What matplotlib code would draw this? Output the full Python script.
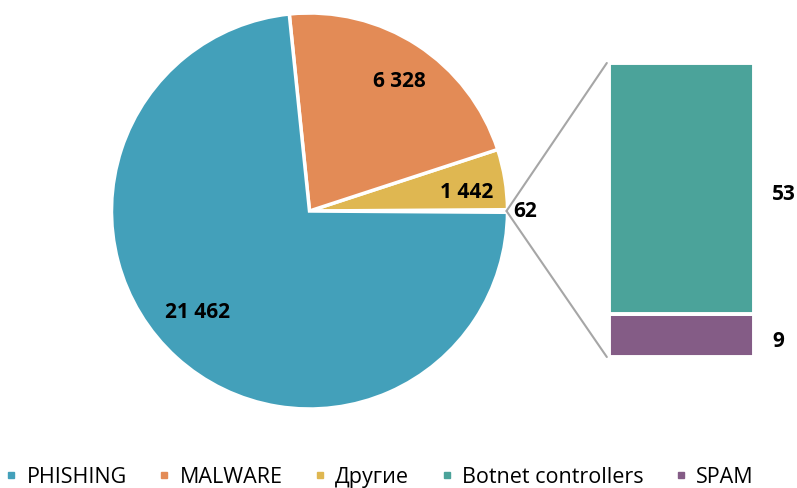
import numpy as np
import matplotlib
matplotlib.use("Agg")
import matplotlib.pyplot as plt
from matplotlib.patches import ConnectionPatch
from matplotlib.lines import Line2D

plt.rcParams['font.family'] = ['Open Sans', 'DejaVu Sans']

# Data
pie_labels = ["Остальные", "Другие", "MALWARE", "PHISHING"]
pie_values = [62, 1442, 6328, 21462]
pie_colors = ["#FFFFFF", "#DFB751", "#E38B56", "#43A0BA"]
pie_texts = ["62", "1 442", "6 328", "21 462"]

bar_labels = ["SPAM", "Botnet controllers"]
bar_values = [9, 53]
bar_colors = ["#845C86", "#4BA39A"]

legend_labels = ["PHISHING", "MALWARE", "Другие", "Botnet controllers", "SPAM"]
legend_colors = ["#43A0BA", "#E38B56", "#DFB751", "#4BA39A", "#845C86"]

W, H = 797, 489
fig = plt.figure(figsize=(W / 100, H / 100), dpi=100)
ax = fig.add_axes([0, 0, 1, 1])

cx, cy, R = 309.5, H - 212, 198
total = sum(pie_values)
start = -pie_values[0] / total * 360 / 2
wedges, _ = ax.pie(pie_values, colors=pie_colors, startangle=start, counterclock=True,
                   center=(cx, cy), radius=R, frame=True,
                   wedgeprops=dict(edgecolor='white', linewidth=2.5))
ax.set_xlim(0, W)
ax.set_ylim(0, H)
ax.set_aspect('equal')
ax.axis('off')

# labels
rfrac = [1.09, 0.80, 0.80, 0.76]
dang = [0, -2, -1.5, -6]
for w, t, rf, da in zip(wedges, pie_texts, rfrac, dang):
    a = np.deg2rad((w.theta1 + w.theta2) / 2 + da)
    x = cx + rf * R * np.cos(a)
    y = cy + rf * R * np.sin(a)
    ax.text(x, y, t, ha='center', va='center', fontsize=15, fontweight='bold', color='black')

# bar of pie
pad = 2
bx0, bx1 = 609 - pad, 754 + pad
by0, by1 = H - 358 - pad, H - 64 + pad
bax = fig.add_axes([bx0 / W, by0 / H, (bx1 - bx0) / W, (by1 - by0) / H])
bottom = 0
tot_b = sum(bar_values)
for v, c in zip(bar_values, bar_colors):
    bax.bar(0, v, bottom=bottom, width=1, color=c, edgecolor='white', linewidth=2.8)
    bax.annotate(str(v), xy=(0.5, bottom + v / 2), xytext=(18, -5), textcoords='offset pixels',
                 ha='left', va='center', fontsize=15, fontweight='bold', color='black',
                 annotation_clip=False)
    bottom += v
# expand limits so the white edges eat into the padding
ppu_y = (by1 - by0 - 2 * pad) / tot_b
bax.set_xlim(-0.5 - pad / 145, 0.5 + pad / 145)
bax.set_ylim(-pad / ppu_y, tot_b + pad / ppu_y)
bax.axis('off')

# connector lines
p = (cx + R - 1, cy)
for yb in [tot_b, 0]:
    con = ConnectionPatch(xyA=p, coordsA=ax.transData, xyB=(-0.515, yb), coordsB=bax.transData,
                          color='#A6A6A6', linewidth=1.5)
    fig.add_artist(con)

handles = [Line2D([], [], marker='s', linestyle='none', markersize=4.5,
                  markerfacecolor=c, markeredgecolor=c) for c in legend_colors]
fig.legend(handles, legend_labels, loc='center left', bbox_to_anchor=(6 / W, 11 / H), ncol=5,
           frameon=False, fontsize=15.5, handletextpad=0.45, columnspacing=1.5,
           handlelength=0.5, borderpad=0, borderaxespad=0)

fig.savefig("out.png", dpi=100)
